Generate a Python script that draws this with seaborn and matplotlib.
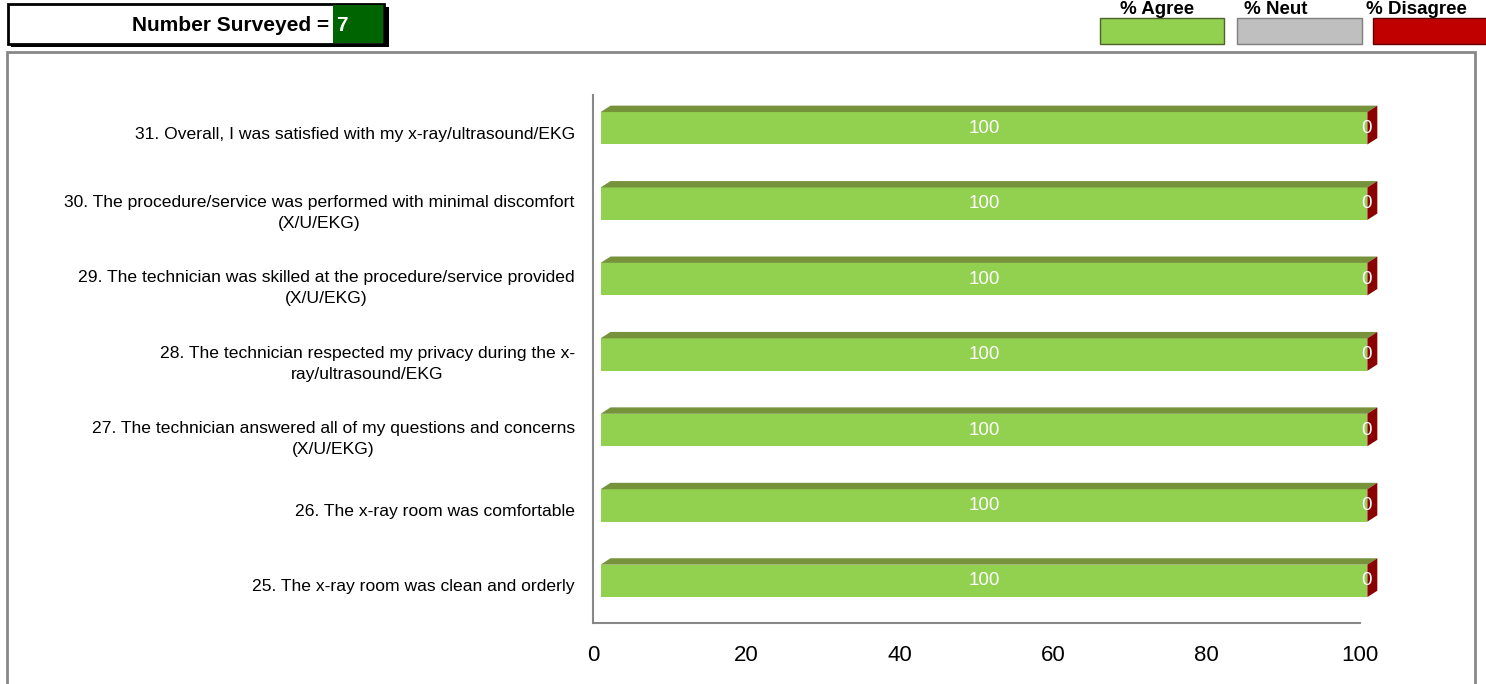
import pandas as pd
import numpy as np
import matplotlib
matplotlib.use("Agg")
import matplotlib.pyplot as plt
from matplotlib.patches import Rectangle, Polygon
import seaborn as sns

# survey data
questions = [
    "31. Overall, I was satisfied with my x-ray/ultrasound/EKG",
    "30. The procedure/service was performed with minimal discomfort\n(X/U/EKG)",
    "29. The technician was skilled at the procedure/service provided\n(X/U/EKG)",
    "28. The technician respected my privacy during the x-\nray/ultrasound/EKG",
    "27. The technician answered all of my questions and concerns\n(X/U/EKG)",
    "26. The x-ray room was comfortable",
    "25. The x-ray room was clean and orderly",
]
pct_agree = [100, 100, 100, 100, 100, 100, 100]
pct_neut = [0, 0, 0, 0, 0, 0, 0]
pct_disagree = [0, 0, 0, 0, 0, 0, 0]
n_surveyed = 7
x_ticks = [0, 20, 40, 60, 80, 100]

GREEN = "#92D050"
GREEN_TOP = "#76933C"
GREY = "#BFBFBF"
RED = "#C00000"
RED_SIDE = "#8B0000"

sns.set_style("white")
plt.rcParams["font.family"] = ["Liberation Sans", "DejaVu Sans"]
plt.rcParams["text.color"] = "black"
plt.rcParams["xtick.labelcolor"] = "black"
plt.rcParams["ytick.labelcolor"] = "black"

df = pd.DataFrame({"question": questions, "agree": pct_agree,
                   "neut": pct_neut, "disagree": pct_disagree})

fig = plt.figure(figsize=(14.86, 6.84), dpi=100)
ax = fig.add_axes([0.399, 0.089, 0.516, 0.772])

bar_h = 0.43
sns.barplot(data=df, x="agree", y="question", color=GREEN, width=bar_h,
            orient="h", ax=ax, saturation=1, edgecolor="none")

# fake 3d depth
shift_x, shift_y = 1.0, -0.06
dx, dy = 1.3, 0.085
for p, (_, row) in zip(ax.patches, df.iterrows()):
    p.set_x(p.get_x() + shift_x)
    p.set_y(p.get_y() + shift_y)
    p.set_clip_on(False)
    x0 = p.get_x()
    x1 = x0 + p.get_width()
    yt = p.get_y()
    yb = yt + p.get_height()
    ax.add_patch(Polygon([(x0, yt), (x0 + dx, yt - dy), (x1 + dx, yt - dy), (x1, yt)],
                         closed=True, facecolor=GREEN_TOP, edgecolor="none", clip_on=False))
    ax.add_patch(Polygon([(x1, yt), (x1 + dx, yt - dy), (x1 + dx, yb - dy), (x1, yb)],
                         closed=True, facecolor=RED_SIDE, edgecolor="none", clip_on=False))
    yc = (yt + yb) / 2
    ax.text((x0 + x1) / 2, yc, f"{row['agree']:.0f}", color="white",
            ha="center", va="center", fontsize=13.5, clip_on=False)
    ax.text(x1 + 0.6, yc, f"{row['disagree']:.0f}", color="white",
            ha="right", va="center", fontsize=13.5, clip_on=False)

ax.set_xlim(0, 100)
ax.set_ylim(len(questions) - 0.5, -0.5)
ax.set_xticks(x_ticks)
ax.set_xlabel("")
ax.set_ylabel("")
ax.tick_params(axis="x", labelsize=16, length=6, color="#888888", pad=10)
ax.tick_params(axis="y", which="major", length=0, pad=13, labelsize=12.6)
ax.set_yticks(np.arange(-0.5, len(questions), 1.0), minor=True)
ax.tick_params(axis="y", which="minor", length=6, color="#888888", width=1.2)
for lab in ax.get_yticklabels():
    lab.set_multialignment("center")
    lab.set_linespacing(1.5)
for s in ["top", "right"]:
    ax.spines[s].set_visible(False)
for s in ["left", "bottom"]:
    ax.spines[s].set_color("#888888")
    ax.spines[s].set_linewidth(1.5)

# outer chart frame
fig.add_artist(Rectangle((0.0047, -0.01), 0.988, 0.934, transform=fig.transFigure,
                         facecolor="none", edgecolor="#888888", linewidth=2))

# number surveyed box
fig.add_artist(Rectangle((0.0075, 0.932), 0.254, 0.058, transform=fig.transFigure,
                         facecolor="black", edgecolor="none"))
fig.add_artist(Rectangle((0.0054, 0.936), 0.253, 0.058, transform=fig.transFigure,
                         facecolor="white", edgecolor="black", linewidth=2))
fig.add_artist(Rectangle((0.224, 0.937), 0.034, 0.056, transform=fig.transFigure,
                         facecolor="#006400", edgecolor="none"))
fig.text(0.2215, 0.962, "Number Surveyed =", ha="right", va="center",
         fontsize=15, fontweight="bold")
fig.text(0.2265, 0.962, str(n_surveyed), ha="left", va="center",
         fontsize=15, fontweight="bold", color="white")

# legend
leg = [("% Agree", GREEN, "#4F6228", 0.740, 0.7535),
       ("% Neut", GREY, "#7F7F7F", 0.8324, 0.837),
       ("% Disagree", RED, "#600000", 0.924, 0.919)]
for lbl, fc, ec, rx, tx in leg:
    fig.add_artist(Rectangle((rx, 0.936), 0.084, 0.037, transform=fig.transFigure,
                             facecolor=fc, edgecolor=ec, linewidth=1))
    fig.text(tx, 0.986, lbl, ha="left", va="center", fontsize=13.5, fontweight="bold")

fig.savefig("out.png", dpi=100)
